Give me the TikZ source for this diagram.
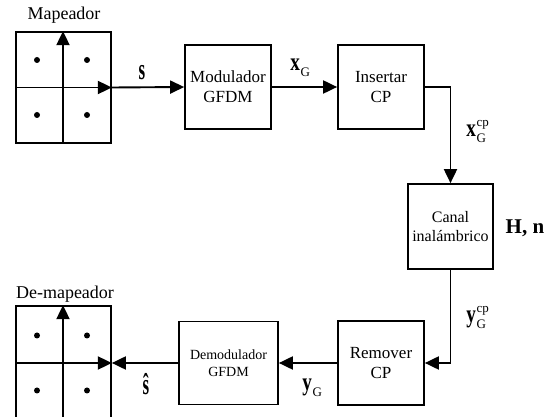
\documentclass[tikz,border=0pt]{standalone}
\usepackage{fontspec}
\setmainfont{Liberation Serif}
\usetikzlibrary{arrows.meta}
\tikzset{
  blk/.style={draw, line width=0.85pt, inner sep=0pt, align=center,
    minimum width=43pt, minimum height=42pt, font=\fontsize{8.5}{10}\selectfont},
  grid/.style={draw, line width=0.85pt, inner sep=0pt, minimum width=47.5pt, minimum height=55.5pt},
  con/.style={line width=0.95pt, -{Triangle[length=7pt,width=6.5pt]}},
  lbl/.style={inner sep=0pt},
  ttl/.style={inner sep=0pt, font=\fontsize{9}{11}\selectfont},
}
% signal name with subscript and superscript
\newcommand{\sig}[3]{\scalebox{0.8}[1.05]{\fontsize{12}{14}\selectfont\bfseries #1}\kern0.3pt%
  \raisebox{-2.8pt}{\fontsize{6.5}{8}\selectfont\begin{tabular}[b]{@{}l@{}}#3\\#2\end{tabular}}}
\begin{document}
\begin{tikzpicture}[x=0.5pt, y=-0.5pt]
  \useasboundingbox (0,0) rectangle (553,417);
  \clip (0,0) rectangle (553,417);

  %Constellations
  \node[grid] (map) at (63.5,87.5) {};
  \node[grid, minimum height=57pt] (dmap) at (63.5,363) {};
  \node[ttl] (tmap) at (64,15) {Mapeador};
  \node[ttl] (tdmap) at (65,294) {De-mapeador};
  \foreach \g in {map,dmap}{
    \draw[con] (\g.south -| 63,0) -- (\g.north -| 63,0);
    \draw[con] (\g.west) -- (\g.east);
    \foreach \dx in {-26.5,23.5}
      \foreach \dy in {-27.5,27.5}
        \fill ([shift={(\dx,\dy)}]\g.center) circle (1.5pt);
  }

  %Blocks
  \node[blk] (mod) at (228,87) {Modulador\\GFDM};
  \node[blk] (ins) at (381,87) {Insertar\\CP};
  \node[blk, minimum width=42.5pt, minimum height=42.5pt, font=\fontsize{8}{9.5}\selectfont] (can) at (450.5,226.5) {Canal\\inalámbrico};
  \node[blk] (rem) at (381,363) {Remover\\CP};
  \node[blk, minimum width=49.5pt, minimum height=41.5pt, font=\fontsize{7}{8.5}\selectfont] (dem) at (228.5,363) {Demodulador\\GFDM};

  %Connections
  \draw[con] (map.east) -- (mod.west);
  \draw[con] (mod.east) -- (ins.west);
  \draw[con] (ins.east) -| (can.north);
  \draw[con] (can.south) |- (rem.east);
  \draw[con] (rem.west) -- (dem.east);
  \draw[con] (dem.west) -- (dmap.east);

  %Signals
  \node[lbl, anchor=base] (s) at (142,80) {\scalebox{0.65}[1.15]{\fontsize{13}{15}\selectfont\bfseries s}};
  \node[lbl, anchor=base west] (xg) at (290,71) {\sig{x}{G}{}};
  \node[lbl, anchor=base west] (xgcp) at (466,137) {\sig{x}{G}{cp}};
  \node[lbl, font=\bfseries\fontsize{10.5}{13}\selectfont] (hn) at (525,228) {H, n};
  \node[lbl, anchor=base west] (ygcp) at (466,323) {\sig{y}{G}{cp}};
  \node[lbl, anchor=base west] (yg) at (302,391) {\sig{y}{G}{}};
  \node[lbl] (sh) at (146,384) {\scalebox{0.65}[1.15]{\fontsize{13}{15}\selectfont\bfseries ŝ}};
\end{tikzpicture}
\end{document}
